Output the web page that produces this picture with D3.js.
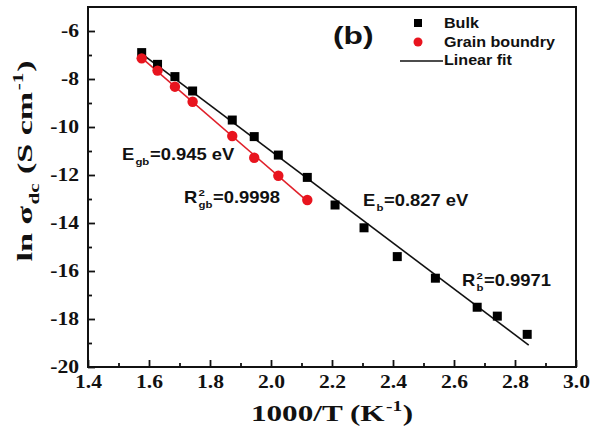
<!DOCTYPE html>
<html>
<head>
<meta charset="utf-8">
<script src="https://cdn.jsdelivr.net/npm/d3@7"></script>
<style>
  html, body { margin: 0; padding: 0; background: #ffffff; }
  svg { display: block; }
</style>
</head>
<body>
<svg id="chart" width="591" height="435"></svg>
<script>
// Arrhenius plot of dc conductivity: bulk and grain-boundary contributions
const invT   = [1.576, 1.628, 1.685, 1.743, 1.873, 1.945, 2.024, 2.119, 2.210, 2.305, 2.414, 2.539, 2.676, 2.742, 2.840];
const lnBulk = [-6.90, -7.39, -7.90, -8.50, -9.71, -10.40, -11.17, -12.10, -13.25, -14.20, -15.40, -16.30, -17.51, -17.88, -18.64];
const invTgb = [1.576, 1.628, 1.685, 1.743, 1.873, 1.945, 2.024, 2.119];
const lnGb   = [-7.14, -7.65, -8.32, -8.95, -10.375, -11.28, -12.03, -13.04];

const xTicks = [1.4, 1.6, 1.8, 2.0, 2.2, 2.4, 2.6, 2.8, 3.0];
const xMinor = [1.5, 1.7, 1.9, 2.1, 2.3, 2.5, 2.7, 2.9];
const yTicks = [-20, -18, -16, -14, -12, -10, -8, -6];
const yMinor = [-19, -17, -15, -13, -11, -9, -7];

const legendItems = ["Bulk", "Grain boundry", "Linear fit"];

const SERIF = "'Liberation Serif', 'Times New Roman', serif";
const SANS  = "'Liberation Sans', Arial, sans-serif";

const svg = d3.select("#chart");
const x = d3.scaleLinear().domain([1.4, 3.0]).range([88, 576]);
const y = d3.scaleLinear().domain([-20, -5]).range([367, 7]);

// least-squares line through a series
function fit(xs, ys) {
  const n = xs.length;
  const mx = d3.mean(xs), my = d3.mean(ys);
  let sxy = 0, sxx = 0;
  for (let i = 0; i < n; i++) { sxy += (xs[i] - mx) * (ys[i] - my); sxx += (xs[i] - mx) ** 2; }
  const m = sxy / sxx;
  return { m, b: my - m * mx };
}

// text built from pieces, with sub/superscripts, stretched horizontally by sx
function richText(parent, tx, ty, opts, parts) {
  const { size, family, sx = 1, anchor = "start", rotate = 0 } = opts;
  const outer = parent.append("g")
    .attr("transform", `translate(${tx},${ty}) rotate(${rotate}) scale(${sx},1)`)
    .attr("font-family", family).attr("font-weight", "bold").attr("fill", "#111");
  const g = outer.append("g");
  const small = size * 0.62;
  let cx = 0;
  parts.forEach(p => {
    if (typeof p === "string") {
      const t = g.append("text").attr("x", cx).attr("y", 0).attr("font-size", size)
        .attr("xml:space", "preserve").style("white-space", "pre").text(p);
      cx += t.node().getComputedTextLength();
    } else {
      let w = 0;
      if (p.sup) {
        const t = g.append("text").attr("x", cx + 1).attr("y", -size * 0.42).attr("font-size", small).text(p.sup);
        w = Math.max(w, t.node().getComputedTextLength());
      }
      if (p.sub) {
        const t = g.append("text").attr("x", cx + 1).attr("y", size * 0.3).attr("font-size", small).text(p.sub);
        w = Math.max(w, t.node().getComputedTextLength());
      }
      cx += w + 1.5;
    }
  });
  if (anchor === "middle") g.attr("transform", `translate(${-cx / 2},0)`);
  return outer;
}

// axes with inward ticks
const tickStretch = 1.2;
const xAxis = svg.append("g").attr("transform", "translate(0,367)")
  .call(d3.axisBottom(x).tickValues(xTicks).tickSizeInner(-7).tickSizeOuter(0).tickPadding(8)
    .tickFormat(d => d.toFixed(1)));
const xAxisMinor = svg.append("g").attr("transform", "translate(0,367)")
  .call(d3.axisBottom(x).tickValues(xMinor).tickSizeInner(-4).tickSizeOuter(0).tickFormat(""));
const yAxis = svg.append("g").attr("transform", "translate(88,0)")
  .call(d3.axisLeft(y).tickValues(yTicks).tickSizeInner(-7).tickSizeOuter(0).tickPadding(9)
    .tickFormat(d => d.toFixed(0)));
const yAxisMinor = svg.append("g").attr("transform", "translate(88,0)")
  .call(d3.axisLeft(y).tickValues(yMinor).tickSizeInner(-4).tickSizeOuter(0).tickFormat(""));

[xAxis, xAxisMinor, yAxis, yAxisMinor].forEach(a => {
  a.select(".domain").remove();
  a.selectAll(".tick line").attr("stroke", "#111").attr("stroke-width", 1.8);
  a.selectAll(".tick text")
    .attr("font-family", SERIF).attr("font-weight", "bold").attr("font-size", 18).attr("fill", "#111")
    .attr("transform", function () {
      const ax = +this.getAttribute("x") || 0;
      return `translate(${ax},0) scale(${tickStretch},1) translate(${-ax},0)`;
    });
});

// plot frame
svg.append("rect")
  .attr("x", x(1.4)).attr("y", y(-5))
  .attr("width", x(3.0) - x(1.4)).attr("height", y(-20) - y(-5))
  .attr("fill", "none").attr("stroke", "#111").attr("stroke-width", 2);

// fitted lines
const fb = fit(invT, lnBulk);
const fg = fit(invTgb, lnGb);
const fx0 = d3.min(invT) - 0.006, fx1 = d3.max(invT) + 0.005;
svg.append("line")
  .attr("x1", x(fx0)).attr("y1", y(fb.m * fx0 + fb.b))
  .attr("x2", x(fx1)).attr("y2", y(fb.m * fx1 + fb.b))
  .attr("stroke", "#111").attr("stroke-width", 1.6);
const gx0 = d3.min(invTgb), gx1 = d3.max(invTgb);
svg.append("line")
  .attr("x1", x(gx0)).attr("y1", y(fg.m * gx0 + fg.b))
  .attr("x2", x(gx1)).attr("y2", y(fg.m * gx1 + fg.b))
  .attr("stroke", "#e0202a").attr("stroke-width", 1.6);

// bulk points
const sq = 9;
svg.append("g").selectAll("rect").data(invT.map((v, i) => [v, lnBulk[i]])).join("rect")
  .attr("x", d => x(d[0]) - sq / 2).attr("y", d => y(d[1]) - sq / 2)
  .attr("width", sq).attr("height", sq).attr("fill", "#000");

// grain boundary points
svg.append("g").selectAll("circle").data(invTgb.map((v, i) => [v, lnGb[i]])).join("circle")
  .attr("cx", d => x(d[0])).attr("cy", d => y(d[1])).attr("r", 5.2).attr("fill", "#e8141e");

// legend
const lg = svg.append("g");
lg.append("rect").attr("x", 414).attr("y", 19).attr("width", 8).attr("height", 8).attr("fill", "#000");
lg.append("circle").attr("cx", 418).attr("cy", 42).attr("r", 4.5).attr("fill", "#e8141e");
lg.append("line").attr("x1", 400).attr("x2", 443).attr("y1", 61).attr("y2", 61)
  .attr("stroke", "#111").attr("stroke-width", 1.6);
legendItems.forEach((s, i) => {
  richText(svg, 444, 28 + i * 18.5, { size: 14, family: SANS, sx: 1.15 }, [s]);
});

// panel label
richText(svg, 333, 44, { size: 23, family: SANS, sx: 1.38 }, ["(b)"]);

// annotations
const ann = { size: 16, family: SANS, sx: 1.15 };
richText(svg, 122, 160, ann, ["E", { sub: "gb" }, "=0.945 eV"]);
richText(svg, 184, 203, ann, ["R", { sup: "2", sub: "gb" }, "=0.9998"]);
richText(svg, 363, 206, ann, ["E", { sub: "b" }, "=0.827 eV"]);
richText(svg, 462, 286, ann, ["R", { sup: "2", sub: "b" }, "=0.9971"]);

// axis titles
richText(svg, 332, 421, { size: 24, family: SERIF, sx: 1.3, anchor: "middle" },
  ["1000/T (K", { sup: "-1" }, ")"]);
richText(svg, 32, 161, { size: 22, family: SERIF, sx: 1.55, anchor: "middle", rotate: -90 },
  ["ln σ", { sub: "dc" }, " (S cm", { sup: "-1" }, ")"]);
</script>
</body>
</html>
